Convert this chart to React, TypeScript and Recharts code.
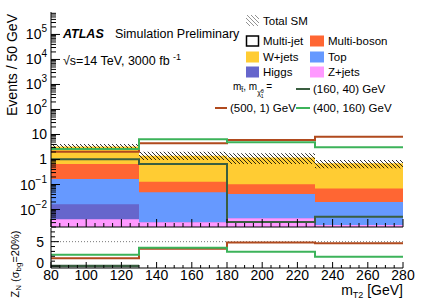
import React from 'react';
import { ComposedChart, Area, Line, XAxis, YAxis, ReferenceLine } from 'recharts';

// ---------- data ----------
const binEdges = [80, 130, 180, 230, 280];
const zJets = [0.0041, 0.0031, 0.0045, 0.0024];
const higgs = [0.012, 0, 0, 0];
const topQuark = [0.15, 0.046, 0.0375, 0.0176];
const multiBoson = [0.49, 0.08, 0.06, 0.05];
const wJets = [2.64, 1.27, 1.1, 0.63];
const multiJet = [0, 0, 0, 0];
const totalLow = [2.6, 0.96, 0.66, 0.45];
const totalHigh = [4.2, 2.05, 1.77, 0.95];
const sig160_40 = [1.02, 0.66, 0.0032, 0.0051];
const sig500_1 = [2.05, 4.45, 6.0, 8.2];
const sig400_160 = [2.6, 6.4, 4.9, 3.1];
const zn160_40: (number | null)[] = [0, null, null, null];
const zn500_1 = [1.6, 3.55, 4.85, 4.65];
const zn400_160 = [2.3, 3.75, 2.95, 1.9];
const xLabelTicks = [80, 100, 120, 140, 160, 180, 200, 220, 240, 260, 280];
const yDecades = [-2, -1, 0, 1, 2, 3, 4, 5];
const znLabelTicks = [0, 5];
const znThreshold = 5;

// ---------- colours ----------
const C = {
  z: '#ff99ff',
  h: '#6666cc',
  top: '#6699ff',
  mb: '#ff6633',
  w: '#ffcc33',
  sA: '#3a5e40',
  sB: '#b04a1e',
  sC: '#3cb35a',
};
const FONT = "'Liberation Sans', Arial, Helvetica, sans-serif";

const Y_MIN = 0.002;
const Y_MAX = 7.9e5;
const ZN_MIN = -0.4;
const ZN_MAX = 7.8;

// ---------- tables built from the arrays ----------
const mainRows: any[] = [];
const ratioRows: any[] = [];
for (let i = 0; i < binEdges.length - 1; i++) {
  const zj = zJets[i];
  const hg = zj + higgs[i];
  const tp = hg + topQuark[i];
  const mb = tp + multiBoson[i];
  const wj = mb + wJets[i];
  const mj = wj + multiJet[i];
  for (const x of [binEdges[i], binEdges[i + 1]]) {
    mainRows.push({
      x, zj, hg, tp, mb, wj, mj,
      band: [totalLow[i], totalHigh[i]],
      sA: sig160_40[i], sB: sig500_1[i], sC: sig400_160[i],
    });
    ratioRows.push({ x, zA: zn160_40[i], zB: zn500_1[i], zC: zn400_160[i] });
  }
}

const xTicks: number[] = [];
for (let v = binEdges[0]; v <= binEdges[binEdges.length - 1]; v += 5) xTicks.push(v);

const yTicks: number[] = [];
for (let e = yDecades[0] - 1; e <= yDecades[yDecades.length - 1] + 1; e++) {
  for (let m = 1; m <= 9; m++) {
    const v = m * Math.pow(10, e);
    if (v >= Y_MIN * 0.999 && v <= Y_MAX) yTicks.push(Number(v.toPrecision(6)));
  }
}
const znTicks = [0, 1, 2, 3, 4, 5, 6, 7];

// ---------- tick renderers ----------
const isMajorLog = (v: number) => {
  const l = Math.log10(v);
  return Math.abs(l - Math.round(l)) < 1e-6 && yDecades.includes(Math.round(l));
};

const LeftLogTick = (p: any) => {
  const { x, y, payload } = p;
  const v = payload.value;
  const major = isMajorLog(v);
  const e = Math.round(Math.log10(v));
  return (
    <g>
      <line x1={x} x2={x + (major ? 9 : 5)} y1={y} y2={y} stroke="#000" strokeWidth={1} />
      {major && (
        <text x={x - 4} y={y} textAnchor="end" dominantBaseline="central" fontSize={14} fontFamily={FONT} fill="#000">
          {e === 0 ? '1' : e === 1 ? '10' : (
            <>
              10<tspan dy={-6} fontSize={10}>{e < 0 ? '\u2212' + Math.abs(e) : String(e)}</tspan>
            </>
          )}
        </text>
      )}
    </g>
  );
};
const RightLogTick = (p: any) => {
  const { x, y, payload } = p;
  const major = isMajorLog(payload.value);
  return <line x1={x} x2={x - (major ? 9 : 5)} y1={y} y2={y} stroke="#000" strokeWidth={1} />;
};
const BottomTickNoLabel = (p: any) => {
  const { x, y, payload } = p;
  const major = xLabelTicks.includes(payload.value);
  return <line x1={x} x2={x} y1={y} y2={y - (major ? 8 : 4)} stroke="#000" strokeWidth={1} />;
};
const TopTick = (p: any) => {
  const { x, y, payload } = p;
  const major = xLabelTicks.includes(payload.value);
  return <line x1={x} x2={x} y1={y} y2={y + (major ? 8 : 4)} stroke="#000" strokeWidth={1} />;
};
const TopTickSmall = (p: any) => {
  const { x, y, payload } = p;
  const major = xLabelTicks.includes(payload.value);
  return <line x1={x} x2={x} y1={y} y2={y + (major ? 6 : 3)} stroke="#000" strokeWidth={1} />;
};
const BottomTickLabel = (p: any) => {
  const { x, y, payload } = p;
  const major = xLabelTicks.includes(payload.value);
  return (
    <g>
      <line x1={x} x2={x} y1={y} y2={y - (major ? 6 : 3)} stroke="#000" strokeWidth={1} />
      {major && (
        <text x={x} y={y + 7} textAnchor="middle" dominantBaseline="central" fontSize={14} fontFamily={FONT} fill="#000">
          {payload.value}
        </text>
      )}
    </g>
  );
};
const ZnLeftTick = (p: any) => {
  const { x, y, payload } = p;
  const major = znLabelTicks.includes(payload.value);
  return (
    <g>
      <line x1={x} x2={x + (major ? 8 : 4)} y1={y} y2={y} stroke="#000" strokeWidth={1} />
      {major && (
        <text x={x - 7} y={y - (payload.value === 0 ? 3 : 0)} textAnchor="end" dominantBaseline="central" fontSize={14} fontFamily={FONT} fill="#000">
          {payload.value}
        </text>
      )}
    </g>
  );
};
const ZnRightTick = (p: any) => {
  const { x, y, payload } = p;
  const major = znLabelTicks.includes(payload.value);
  return <line x1={x} x2={x - (major ? 8 : 4)} y1={y} y2={y} stroke="#000" strokeWidth={1} />;
};

const axisLine = { stroke: '#000', strokeWidth: 1 };

export default function App() {
  return (
    <div style={{ position: 'absolute', left: 0, top: 0, width: 425, height: 305, background: '#fff', overflow: 'hidden' }}>
      {/* main panel */}
      <div style={{ position: 'absolute', left: 0, top: 0 }}>
        <ComposedChart width={425} height={240} data={mainRows} margin={{ top: 12, right: 22, bottom: 0, left: 0 }}>
          <defs>
            <pattern id="hatch" patternUnits="userSpaceOnUse" width="4" height="4">
              <path d="M-1,-1 L5,5 M3,-1 L5,1 M-1,3 L1,5" stroke="#000" strokeWidth={0.8} />
            </pattern>
          </defs>
          <XAxis dataKey="x" type="number" domain={[80, 280]} ticks={xTicks} interval={0} height={13}
            tickSize={0} tickMargin={0} tickLine={false} axisLine={axisLine} tick={BottomTickNoLabel} allowDataOverflow />
          <XAxis xAxisId="t" dataKey="x" type="number" orientation="top" domain={[80, 280]} ticks={xTicks} interval={0} height={0}
            tickSize={0} tickMargin={0} tickLine={false} axisLine={axisLine} tick={TopTick} allowDataOverflow />
          <YAxis type="number" scale="log" domain={[Y_MIN, Y_MAX]} ticks={yTicks} interval={0} width={51}
            tickSize={0} tickMargin={0} tickLine={false} axisLine={axisLine} tick={LeftLogTick} allowDataOverflow />
          <YAxis yAxisId="r" orientation="right" type="number" scale="log" domain={[Y_MIN, Y_MAX]} ticks={yTicks} interval={0} width={0}
            tickSize={0} tickMargin={0} tickLine={false} axisLine={axisLine} tick={RightLogTick} allowDataOverflow />
          <Area dataKey="wj" type="linear" baseValue={Y_MIN} fill={C.w} fillOpacity={1} stroke="none" isAnimationActive={false} />
          <Area dataKey="mb" type="linear" baseValue={Y_MIN} fill={C.mb} fillOpacity={1} stroke="none" isAnimationActive={false} />
          <Area dataKey="tp" type="linear" baseValue={Y_MIN} fill={C.top} fillOpacity={1} stroke="none" isAnimationActive={false} />
          <Area dataKey="hg" type="linear" baseValue={Y_MIN} fill={C.h} fillOpacity={1} stroke="none" isAnimationActive={false} />
          <Area dataKey="zj" type="linear" baseValue={Y_MIN} fill={C.z} fillOpacity={1} stroke="none" isAnimationActive={false} />
          <Area dataKey="band" type="linear" fill="url(#hatch)" fillOpacity={1} stroke="none" isAnimationActive={false} />
          <Line dataKey="sA" type="linear" stroke={C.sA} strokeWidth={2} dot={false} isAnimationActive={false} />
          <Line dataKey="sB" type="linear" stroke={C.sB} strokeWidth={2} dot={false} isAnimationActive={false} />
          <Line dataKey="sC" type="linear" stroke={C.sC} strokeWidth={2} dot={false} isAnimationActive={false} />
        </ComposedChart>
      </div>

      {/* significance panel */}
      <div style={{ position: 'absolute', left: 0, top: 220 }}>
        <ComposedChart width={425} height={85} data={ratioRows} margin={{ top: 8, right: 22, bottom: 0, left: 0 }}>
          <XAxis dataKey="x" type="number" domain={[80, 280]} ticks={xTicks} interval={0} height={37}
            tickSize={0} tickMargin={0} tickLine={false} axisLine={axisLine} tick={BottomTickLabel} allowDataOverflow />
          <XAxis xAxisId="t" dataKey="x" type="number" orientation="top" domain={[80, 280]} ticks={xTicks} interval={0} height={0}
            tickSize={0} tickMargin={0} tickLine={false} axisLine={axisLine} tick={TopTickSmall} allowDataOverflow />
          <YAxis type="number" domain={[ZN_MIN, ZN_MAX]} ticks={znTicks} interval={0} width={51}
            tickSize={0} tickMargin={0} tickLine={false} axisLine={axisLine} tick={ZnLeftTick} allowDataOverflow />
          <YAxis yAxisId="r" orientation="right" type="number" domain={[ZN_MIN, ZN_MAX]} ticks={znTicks} interval={0} width={0}
            tickSize={0} tickMargin={0} tickLine={false} axisLine={axisLine} tick={ZnRightTick} allowDataOverflow />
          <ReferenceLine y={znThreshold} stroke="#777" strokeDasharray="1 2" strokeWidth={1} ifOverflow="hidden" />
          <Line dataKey="zA" type="linear" stroke={C.sA} strokeWidth={2.5} dot={false} isAnimationActive={false} connectNulls={false} />
          <Line dataKey="zB" type="linear" stroke={C.sB} strokeWidth={2} dot={false} isAnimationActive={false} />
          <Line dataKey="zC" type="linear" stroke={C.sC} strokeWidth={2} dot={false} isAnimationActive={false} />
        </ComposedChart>
      </div>

      {/* text & legend overlay */}
      <svg width={425} height={305} style={{ position: 'absolute', left: 0, top: 0, pointerEvents: 'none' }} fontFamily={FONT}>
        <defs>
          <pattern id="hatchLeg" patternUnits="userSpaceOnUse" width="4" height="4">
            <path d="M-1,-1 L5,5 M3,-1 L5,1 M-1,3 L1,5" stroke="#777" strokeWidth={0.8} />
          </pattern>
        </defs>
        <text x={12} y={65} transform="rotate(-90 12 65)" textAnchor="middle" dominantBaseline="central" fontSize={14}>Events / 50 GeV</text>
        <text x={15} y={264} transform="rotate(-90 15 264)" textAnchor="middle" dominantBaseline="central" fontSize={11}>
          Z<tspan dy={3} fontSize={8}>N</tspan><tspan dy={-3}> (σ</tspan><tspan dy={3} fontSize={8}>bg</tspan><tspan dy={-3}>=20%)</tspan>
        </text>
        <text x={403} y={295} textAnchor="end" fontSize={14}>
          m<tspan dy={3} fontSize={9}>T2</tspan><tspan dy={-3}> [GeV]</tspan>
        </text>

        <text x={63} y={37.5} fontSize={12.5} fontWeight="bold" fontStyle="italic">ATLAS</text>
        <text x={115} y={37.5} fontSize={12.5}>Simulation Preliminary</text>
        <text x={63} y={65} fontSize={12.5}>
          √s=14 TeV, 3000 fb <tspan dy={-5} fontSize={9}>-1</tspan>
        </text>

        {/* legend */}
        <rect x={246} y={15} width={13} height={11} fill="url(#hatchLeg)" />
        <text x={263} y={21} dominantBaseline="central" fontSize={11.5}>Total SM</text>

        <rect x={246.5} y={36} width={12} height={10} fill="#fff" stroke="#000" strokeWidth={1.5} />
        <text x={263} y={41} dominantBaseline="central" fontSize={11.5}>Multi-jet</text>
        <rect x={310} y={35.5} width={14} height={11} fill={C.mb} />
        <text x={328} y={41} dominantBaseline="central" fontSize={11.5}>Multi-boson</text>

        <rect x={246} y={51.5} width={13} height={11} fill={C.w} />
        <text x={263} y={57} dominantBaseline="central" fontSize={11.5}>W+jets</text>
        <rect x={310} y={51.5} width={14} height={11} fill={C.top} />
        <text x={328} y={57} dominantBaseline="central" fontSize={11.5}>Top</text>

        <rect x={246} y={66.5} width={13} height={11} fill={C.h} />
        <text x={263} y={72} dominantBaseline="central" fontSize={11.5}>Higgs</text>
        <rect x={310} y={66.5} width={14} height={11} fill={C.z} />
        <text x={328} y={72} dominantBaseline="central" fontSize={11.5}>Z+jets</text>

        <text x={233} y={90} fontSize={10}>
          m<tspan dy={2} fontSize={7}>t̃</tspan><tspan dy={-2}>, m</tspan><tspan dy={5} fontSize={7}>χ̃</tspan><tspan dy={-2} fontSize={5}>0</tspan><tspan dx={-3} dy={5} fontSize={5}>1</tspan><tspan dy={-8}> =</tspan>
        </text>
        <line x1={296} x2={310} y1={89} y2={89} stroke={C.sA} strokeWidth={2} />
        <text x={313} y={89} dominantBaseline="central" fontSize={11.5}>(160, 40) GeV</text>

        <line x1={215} x2={227} y1={108} y2={108} stroke={C.sB} strokeWidth={2} />
        <text x={230} y={108} dominantBaseline="central" fontSize={11.5}>(500, 1) GeV</text>
        <line x1={296} x2={310} y1={108} y2={108} stroke={C.sC} strokeWidth={2} />
        <text x={313} y={108} dominantBaseline="central" fontSize={11.5}>(400, 160) GeV</text>
      </svg>
    </div>
  );
}
